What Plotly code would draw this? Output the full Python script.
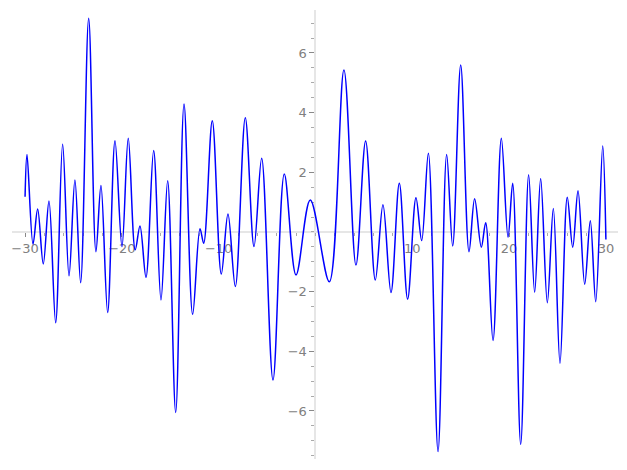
import plotly.graph_objects as go

# extrema of the curve
x_vals = [-30.0, -29.80, -29.18, -28.70, -28.12, -27.53, -26.84, -26.12, -25.46, -24.85,
          -24.26, -23.43, -22.68, -22.16, -21.47, -20.71, -19.99, -19.34, -18.62, -18.13,
          -17.51, -16.72, -15.96, -15.27, -14.44, -13.58, -12.69, -11.93, -11.55, -10.66,
          -9.73, -9.04, -8.28, -7.25, -6.35, -5.56, -4.39, -3.22, -2.01, -0.54,
          1.43, 2.94, 4.18, 5.18, 6.18, 6.97, 7.80, 8.66, 9.52, 10.38,
          10.97, 11.66, 12.66, 13.55, 14.17, 15.00, 15.86, 16.44, 17.13, 17.58,
          18.34, 19.20, 19.89, 20.37, 21.20, 22.02, 22.64, 23.26, 23.95, 24.57,
          25.26, 26.01, 26.57, 27.12, 27.81, 28.39, 28.95, 29.67, 30.0]
y_vals = [1.18, 2.60, -0.41, 0.77, -1.07, 1.04, -3.04, 2.94, -1.47, 1.74,
          -1.70, 7.16, -0.66, 1.56, -2.70, 3.06, -0.49, 3.14, -0.60, 0.20,
          -1.52, 2.73, -2.28, 1.72, -6.05, 4.29, -2.76, 0.11, -0.38, 3.73,
          -1.41, 0.60, -1.83, 3.83, -0.49, 2.47, -4.96, 1.94, -1.44, 1.07,
          -1.67, 5.43, -1.11, 3.05, -1.61, 0.91, -2.03, 1.63, -2.25, 1.15,
          -0.29, 2.64, -7.36, 2.60, -0.47, 5.60, -0.66, 1.11, -0.51, 0.31,
          -3.64, 3.14, -0.18, 1.63, -7.12, 1.92, -2.02, 1.79, -2.37, 0.79,
          -4.40, 1.16, -0.51, 1.38, -1.75, 0.38, -2.34, 2.88, -0.25]

x_ticks = [-30, -20, -10, 10, 20, 30]
y_ticks = [-6, -4, -2, 2, 4, 6]

x_range = [-31.35, 31.25]
y_range = [-7.61, 7.44]

fig = go.Figure(go.Scatter(
    x=x_vals, y=y_vals, mode='lines',
    line=dict(color='#0000ff', width=1.5, shape='spline', smoothing=1.0),
    hoverinfo='skip'
))

axis_font = dict(family='DejaVu Sans', size=13, color='#808080')

# axes cross at the origin, like a Sage plot
# (the page body adds 8px, so margins are shifted by that)
fig.update_layout(
    width=627, height=470,
    margin=dict(l=4, r=17, t=2, b=19),
    paper_bgcolor='white', plot_bgcolor='white',
    showlegend=False,
    xaxis=dict(
        range=x_range, showgrid=False, zeroline=False, automargin=False,
        showline=True, linecolor='#e6e6e6', linewidth=2, layer='below traces',
        anchor='free', position=(0 - y_range[0]) / (y_range[1] - y_range[0]),
        tickmode='array', tickvals=x_ticks,
        ticks='outside', ticklen=4, tickwidth=1, tickcolor='#888888',
        tickfont=axis_font,
        minor=dict(tickmode='linear', tick0=0, dtick=2, ticks='outside',
                   ticklen=3, tickcolor='#aaaaaa'),
    ),
    yaxis=dict(
        range=y_range, showgrid=False, zeroline=False, automargin=False,
        showline=True, linecolor='#e6e6e6', linewidth=2, layer='below traces',
        anchor='free', position=(0 - x_range[0]) / (x_range[1] - x_range[0]),
        tickmode='array', tickvals=y_ticks,
        ticks='outside', ticklen=5, tickwidth=1, tickcolor='#888888',
        tickfont=axis_font,
        minor=dict(tickmode='linear', tick0=0, dtick=0.5, ticks='outside',
                   ticklen=3, tickcolor='#aaaaaa'),
    ),
)

fig.write_html("out.html")
